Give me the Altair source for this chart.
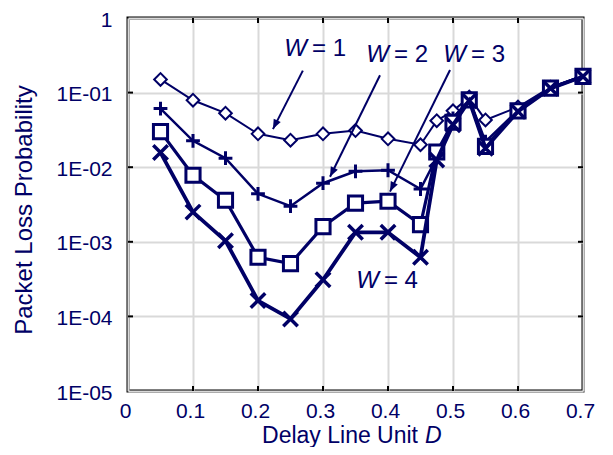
import altair as alt
import pandas as pd

# ---- data ----
D = [0.05, 0.1, 0.15, 0.2, 0.25, 0.3, 0.35, 0.4, 0.45, 0.475, 0.5, 0.525, 0.55, 0.6, 0.65, 0.7]
W1 = [0.15, 0.079, 0.053, 0.028, 0.023, 0.028, 0.031, 0.024, 0.020, 0.042, 0.057, 0.087, 0.043, 0.064, 0.118, 0.168]
W2 = [0.061, 0.0226, 0.0132, 0.0044, 0.0030, 0.0061, 0.0088, 0.0091, 0.0051, 0.0135, 0.045, 0.082, 0.022, 0.058, 0.116, 0.166]
W3 = [0.030, 0.0078, 0.0036, 0.00062, 0.00051, 0.0016, 0.0033, 0.0035, 0.0017, 0.016, 0.040, 0.080, 0.019, 0.057, 0.115, 0.165]
W4 = [0.0157, 0.0025, 0.00103, 0.000163, 0.0000925, 0.00031, 0.00134, 0.00134, 0.00062, 0.0125, 0.037, 0.078, 0.018, 0.056, 0.114, 0.164]

x_ticks = [0, 0.1, 0.2, 0.3, 0.4, 0.5, 0.6, 0.7]
x_inner = [0.1, 0.2, 0.3, 0.4, 0.5, 0.6]
y_ticks = [1e-5, 1e-4, 1e-3, 1e-2, 1e-1, 1]
y_inner = [1e-4, 1e-3, 1e-2, 1e-1]

label_text = ["= 1", "= 2", "= 3", "= 4"]
label_D = [0.2754, 0.4015, 0.520, 0.386]
label_P = [0.389, 0.318, 0.318, 0.000299]

arrow_D0 = [0.269, 0.3877, 0.4954]
arrow_P0 = [0.197, 0.171, 0.201]
arrow_D1 = [0.223, 0.3108, 0.4031]
arrow_P1 = [0.0324, 0.00745, 0.00471]

# ---- styling ----
PW, PH = 455, 373
NAVY = "#000066"
FONT = "Liberation Sans"
FS = 21
FT = 23

xs = alt.Scale(domain=[0, 0.7], nice=False, zero=False)
ys = alt.Scale(type="log", domain=[1e-5, 1], nice=False)

x_axis = alt.Axis(values=x_ticks, grid=True, gridColor="#d9d9d9", gridWidth=2,
                  ticks=False, domain=False, labelFont=FONT, labelFontSize=FS,
                  labelColor=NAVY, labelPadding=9, labelOffset=-3, labelFlush=False,
                  labelExpr="datum.value == 0 ? '0' : format(datum.value, '.1f')", title=None)
y_axis = alt.Axis(values=y_ticks, grid=True, gridColor="#d9d9d9", gridWidth=2,
                  ticks=False, domain=False, labelFont=FONT, labelFontSize=FS,
                  labelColor=NAVY, labelPadding=16, labelOffset=2, labelFlush=False,
                  labelExpr="datum.value >= 1 ? '1' : '1E-0' + round(-log(datum.value)/LN10)",
                  title=None)


def X(f):
    return alt.X(f, type="quantitative", scale=xs, axis=x_axis)


def Y(f):
    return alt.Y(f, type="quantitative", scale=ys, axis=y_axis)


# inward ticks
xt = pd.DataFrame({"D": x_inner})
yt = pd.DataFrame({"P": y_inner})
tick_layers = [
    alt.Chart(xt).mark_rule(color="black", strokeWidth=2).encode(
        x=X("D"), y=alt.value(0), y2=alt.value(5)),
    alt.Chart(xt).mark_rule(color="black", strokeWidth=2).encode(
        x=X("D"), y=alt.value(PH), y2=alt.value(PH - 5)),
    alt.Chart(yt).mark_rule(color="black", strokeWidth=2).encode(
        y=Y("P"), x=alt.value(0), x2=alt.value(5)),
    alt.Chart(yt).mark_rule(color="black", strokeWidth=2).encode(
        y=Y("P"), x=alt.value(PW), x2=alt.value(PW - 5)),
]

PLUS = "M-1,0L1,0M0,-1L0,1"
XSH = "M-1,-1L1,1M-1,1L1,-1"
series = [
    (W1, 2.0, dict(shape="diamond", size=160, fill="white", fillOpacity=1, strokeWidth=2)),
    (W2, 2.5, dict(shape=PLUS, size=190, fillOpacity=0, strokeWidth=3)),
    (W3, 3.2, dict(shape="square", size=200, fill="white", fillOpacity=1, strokeWidth=3)),
    (W4, 3.8, dict(shape=XSH, size=210, fillOpacity=0, strokeWidth=3.5)),
]

series_layers = []
for vals, lw, mk in series:
    df = pd.DataFrame({"D": D, "P": vals})
    series_layers.append(alt.Chart(df).mark_line(color=NAVY, strokeWidth=lw).encode(x=X("D"), y=Y("P")))
    series_layers.append(alt.Chart(df).mark_point(stroke=NAVY, opacity=1, **mk).encode(x=X("D"), y=Y("P")))

# arrows
adf = pd.DataFrame({"D": arrow_D0, "P": arrow_P0, "D1": arrow_D1, "P1": arrow_P1})
arrow_lines = alt.Chart(adf).mark_rule(color=NAVY, strokeWidth=2).encode(
    x=X("D"), y=Y("P"), x2="D1:Q", y2="P1:Q")
hdf = pd.DataFrame({"D": arrow_D1, "P": arrow_P1})
arrow_heads = alt.Chart(hdf).mark_point(
    shape="M0,0L-0.4,1L0.4,1Z", size=380, filled=True, color=NAVY, opacity=1, angle=206
).encode(x=X("D"), y=Y("P"))

# labels W = n (italic W)
ldf = pd.DataFrame({"D": label_D, "P": label_P, "t": label_text})
lab_w = alt.Chart(ldf).mark_text(text="W", fontStyle="italic", align="right", baseline="middle",
                                 font=FONT, fontSize=24, color=NAVY).encode(x=X("D"), y=Y("P"))
lab_n = alt.Chart(ldf).mark_text(align="left", baseline="middle", dx=5,
                                 font=FONT, fontSize=24, color=NAVY).encode(
    x=X("D"), y=Y("P"), text="t:N")

one = pd.DataFrame({"a": [0]})
ytitle = alt.Chart(one).mark_text(text="Packet Loss Probability", angle=270, align="center",
                                  baseline="middle", font=FONT, fontSize=FT + 1, color=NAVY).encode(
    x=alt.value(-103), y=alt.value(192))
xtitle = alt.Chart(one).mark_text(text="Delay Line Unit", align="right", baseline="alphabetic",
                                  font=FONT, fontSize=FT, color=NAVY).encode(
    x=alt.value(290), y=alt.value(PH + 52))
xtitle_d = alt.Chart(one).mark_text(text="D", fontStyle="italic", align="left", baseline="alphabetic",
                                    font=FONT, fontSize=FT, color=NAVY).encode(
    x=alt.value(297), y=alt.value(PH + 52))

chart = alt.layer(
    *tick_layers, *series_layers, arrow_lines, arrow_heads, lab_w, lab_n,
    ytitle, xtitle, xtitle_d
).properties(
    width=PW, height=PH, autosize="none",
    padding={"left": 120, "top": 10, "right": 20, "bottom": 56},
    background="white",
).configure_view(stroke="black", strokeWidth=3)

chart.save("out.html", embed_options={"renderer": "svg", "actions": False})
